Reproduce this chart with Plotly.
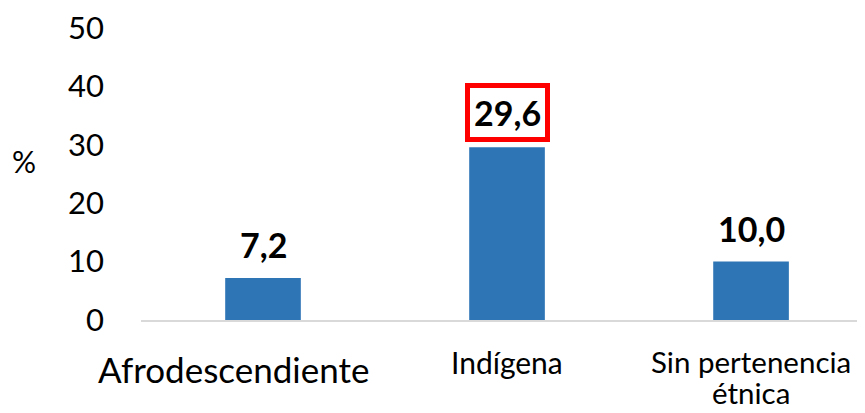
import plotly.graph_objects as go

categories = ["Afrodescendiente", "Indígena", "Sin pertenencia<br>étnica"]
values = [7.2, 29.6, 10.0]
value_labels = ["7,2", "29,6", "10,0"]
y_ticks = [0, 10, 20, 30, 40, 50]

FONT = "Lato"
BAR = "#2E75B6"

x = list(range(len(categories)))
fig = go.Figure()
fig.add_trace(go.Bar(x=x, y=values, width=0.31, marker=dict(color=BAR, line=dict(width=0)),
                     hoverinfo="skip"))

# category labels (Afrodescendiente is larger and set left of its bar in the reference)
cat_sizes = [35, 30, 29.5]
cat_xshift = [-30, 0, 0]
cat_yshift = [-26, -22, -22]
LINE_STEP = 31
for i, (c, s, xs, ys) in enumerate(zip(categories, cat_sizes, cat_xshift, cat_yshift)):
    for k, line in enumerate(c.split("<br>")):
        fig.add_annotation(x=i, y=0, text=line, showarrow=False, xanchor="center",
                           yanchor="top", xshift=xs, yshift=ys - k * LINE_STEP,
                           font=dict(family=FONT, size=s, color="black"))

for i, (v, t) in enumerate(zip(values, value_labels)):
    boxed = (i == 1)
    fig.add_annotation(x=i, y=v, text="<b>" + t + "</b>", showarrow=False,
                       yanchor="middle", yshift=35 if boxed else 33,
                       font=dict(family=FONT, size=34, color="black"),
                       bordercolor="#FF0000" if boxed else None,
                       borderwidth=5 if boxed else 0,
                       borderpad=4 if boxed else 0,
                       bgcolor="white" if boxed else None)

fig.add_annotation(xref="paper", yref="y", x=0, xshift=-117, y=27.2, text="%",
                   showarrow=False, xanchor="center", yanchor="middle",
                   font=dict(family=FONT, size=30, color="black"))

fig.update_layout(
    width=857, height=405,
    margin=dict(l=133, r=0, t=17, b=93),
    paper_bgcolor="white", plot_bgcolor="white",
    showlegend=False,
    font=dict(family=FONT, color="black"),
    xaxis=dict(tickvals=x, showticklabels=False, range=[-0.5, 2.467],
               showline=True, linecolor="#D9D9D9", linewidth=1.5,
               showgrid=False, zeroline=False, ticks="",
               fixedrange=True),
    yaxis=dict(range=[0, 50], tickvals=y_ticks, showline=False, showgrid=False,
               zeroline=False, ticks="", ticklabelstandoff=36,
               ticklabeloverflow="allow",
               tickfont=dict(family=FONT, size=31, color="black"),
               fixedrange=True),
)

fig.write_html("out.html")
